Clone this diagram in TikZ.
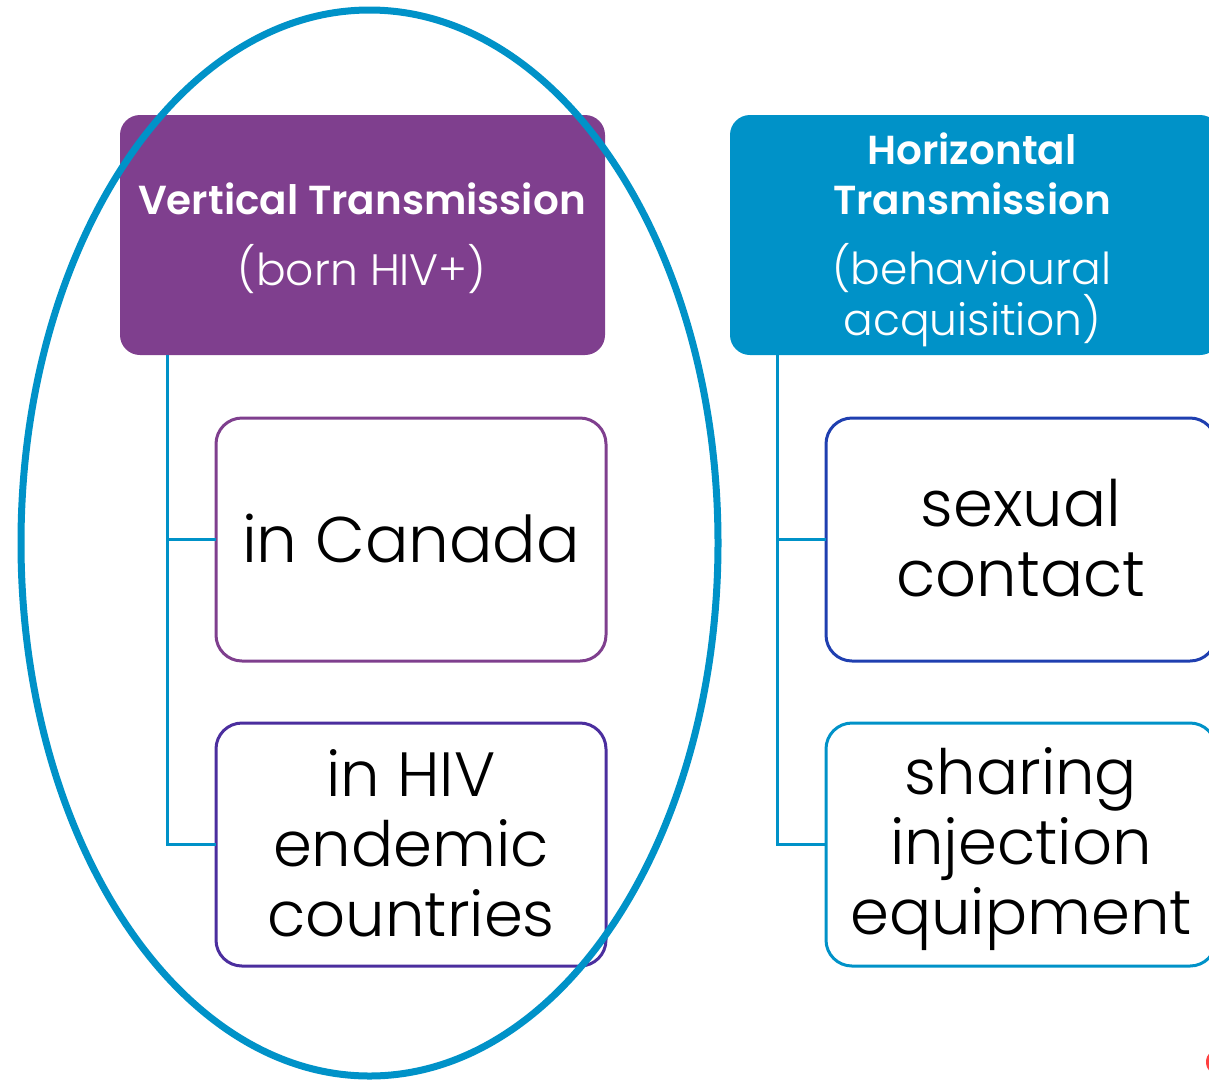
\documentclass[tikz,border=0pt]{standalone}
\usepackage{fontspec}
\setmainfont{Poppins Light}[BoldFont={Poppins SemiBold}]
\usetikzlibrary{shapes.geometric}
\definecolor{vpurple}{HTML}{7F3F8E}
\definecolor{hblue}{HTML}{0092C8}
\definecolor{navy}{HTML}{1F3FB0}
\definecolor{indigo}{HTML}{4B2E9E}
\tikzset{x=1pt,y=-1pt,
 header/.style={rectangle,rounded corners=20pt,minimum height=240pt,text=white,align=center,inner sep=0pt,outer sep=0pt,anchor=north west},
 child/.style={rectangle,draw,line width=3pt,fill=white,rounded corners=26pt,minimum width=390pt,minimum height=243pt,align=center,inner sep=0pt,outer sep=0pt,anchor=north west,text=black},
 link/.style={draw=hblue,line width=3pt},
 htitle/.style={font=\fontsize{40.5}{50}\selectfont\bfseries},
 hsub/.style={font=\fontsize{44}{49}\selectfont},
 ctext/.style={font=\fontsize{62.5}{70}\selectfont,align=center}
}
\begin{document}
\begin{tikzpicture}
\useasboundingbox (0,0) rectangle (1209,1080);
\clip (0,0) rectangle (1209,1080);
\node[header,fill=vpurple,minimum width=485pt] (v) at (120,115) {};
\node[header,fill=hblue,minimum width=490pt] (h) at (730,115) {};
\node[htitle,text=white] (vt) at (362,199) {Vertical Transmission};
\node[hsub,text=white] (vs) at (362,269) {(born HIV+)};
\node[htitle,text=white,align=center] (ht) at (972,173.5) {Horizontal\\Transmission};
\node[hsub,text=white,align=center] (hs) at (972,295) {(behavioural\\acquisition)};
\coordinate (vroot) at (167,355);
\coordinate (hroot) at (777,355);
\node[child,draw=vpurple] (a) at (216,418) {};
\node[child,draw=indigo] (b) at (216,723) {};
\node[child,draw=navy] (c) at (826,418) {};
\node[child,draw=hblue] (d) at (826,723) {};
\node[ctext,font=\fontsize{64.5}{70}\selectfont] (at) at (411,538) {in Canada};
\node[ctext] (bt) at (411,843) {in HIV\\endemic\\countries};
\node[ctext,font=\fontsize{64}{70}\selectfont] (ct) at (1021,538) {sexual\\contact};
\node[ctext] (dt) at (1021,849) {sharing\\injection\\equipment};
\draw[link] (vroot) |- (a.west);
\draw[link] (vroot) |- (b.west);
\draw[link] (hroot) |- (c.west);
\draw[link] (hroot) |- (d.west);
\node[ellipse,draw=hblue,line width=7pt,minimum width=697pt,minimum height=1066pt,inner sep=0pt,outer sep=0pt] (oval) at (369.5,543) {};
\fill[red!75!white] (1220,1062) circle (14);
\end{tikzpicture}
\end{document}
